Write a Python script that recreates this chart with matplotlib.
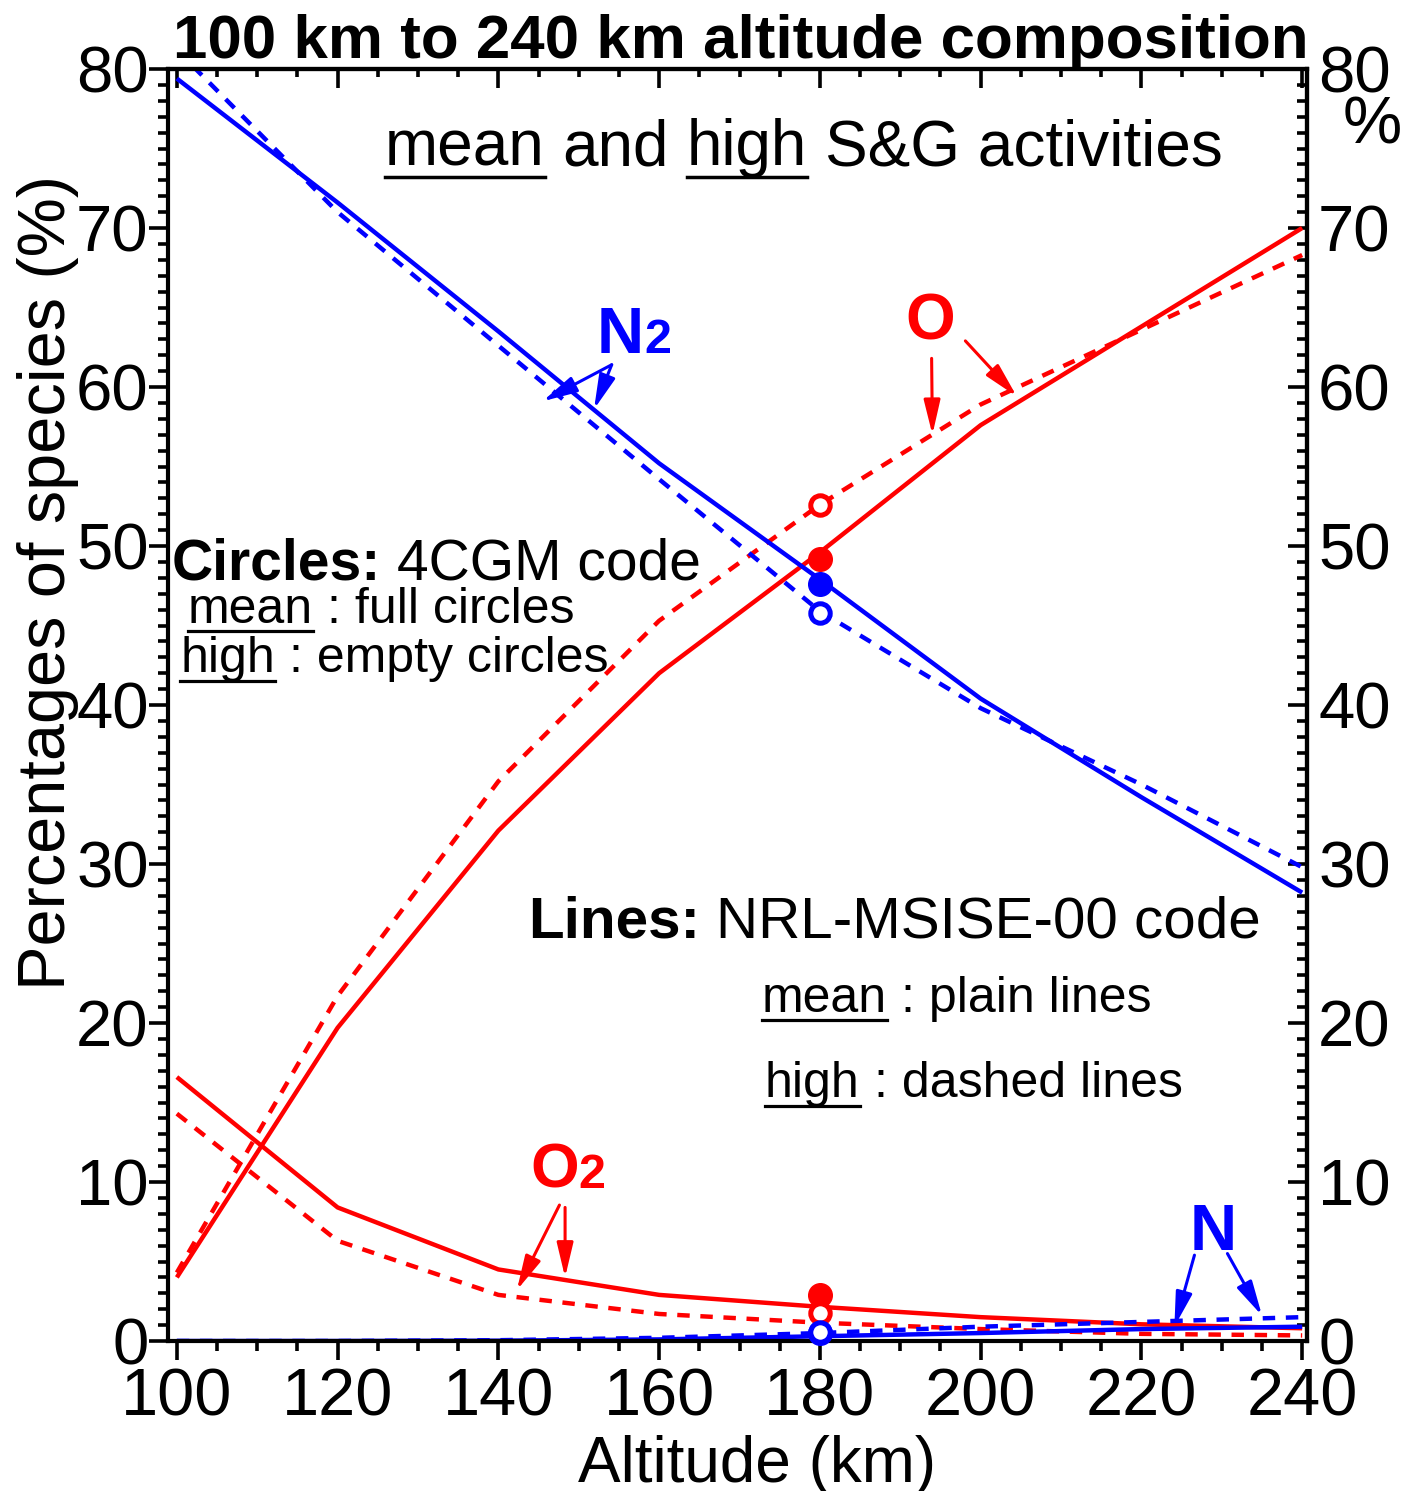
import matplotlib
matplotlib.use('Agg')
import matplotlib.pyplot as plt
from matplotlib.ticker import MultipleLocator
from matplotlib.transforms import IdentityTransform
from matplotlib.lines import Line2D

W, H, DPI = 1414, 1491, 100
plt.rcParams['font.family'] = ['Liberation Sans', 'DejaVu Sans']

# ---------------- data ----------------
altitude = [100, 120, 140, 160, 180, 200, 220, 240]
n2_mean = [79.4, 71.6, 63.5, 55.2, 47.9, 40.4, 34.2, 28.2]
n2_high = [81.2, 71.0, 62.6, 54.2, 45.9, 39.8, 35.0, 29.8]
o_mean = [4.0, 19.7, 32.1, 42.0, 49.6, 57.6, 63.8, 70.0]
o_high = [4.3, 21.7, 35.2, 45.3, 52.6, 58.9, 63.6, 68.3]
o2_mean = [16.6, 8.4, 4.5, 2.9, 2.15, 1.5, 1.05, 0.8]
o2_high = [14.3, 6.3, 2.9, 1.7, 1.15, 0.75, 0.45, 0.35]
n_mean = [0.0, 0.0, 0.02, 0.1, 0.3, 0.5, 0.75, 0.9]
n_high = [0.0, 0.0, 0.05, 0.2, 0.5, 0.9, 1.2, 1.5]

circle_alt = 180
circle_species = ['O', 'N2', 'O2', 'N']
circle_colors = ['red', 'blue', 'red', 'blue']
circle_mean = [49.2, 47.6, 2.9, 0.5]
circle_high = [52.6, 45.8, 1.75, 0.55]

xticks = [100, 120, 140, 160, 180, 200, 220, 240]
yticks = [0, 10, 20, 30, 40, 50, 60, 70, 80]

RED, BLUE = '#ff0000', '#0000ff'

fig = plt.figure(figsize=(W / DPI, H / DPI), dpi=DPI)
ax = fig.add_axes([168 / W, 1 - 1341 / H, (1307 - 168) / W, (1341 - 69) / H])
ax.set_xlim(98.9, 240.6)
ax.set_ylim(0, 80)

LW = 3.2
DASH = (2.8, 2.4)
series = [
    (o_mean, RED, '-'), (o_high, RED, '--'),
    (o2_mean, RED, '-'), (o2_high, RED, '--'),
    (n2_mean, BLUE, '-'), (n2_high, BLUE, '--'),
    (n_mean, BLUE, '-'), (n_high, BLUE, '--'),
]
for vals, col, ls in series:
    if ls == '-':
        ax.plot(altitude, vals, color=col, lw=LW, solid_capstyle='butt')
    else:
        ax.plot(altitude, vals, color=col, lw=LW, dashes=DASH, dash_capstyle='butt')

for v, c in zip(circle_mean, circle_colors):
    ax.plot([circle_alt], [v], 'o', color=c, ms=17, mec=c, zorder=5, clip_on=False)
for v, c in zip(circle_high, circle_colors):
    ax.plot([circle_alt], [v], 'o', mfc='white', mec=c, ms=14, mew=3.6, zorder=5, clip_on=False)

# ---------------- axes styling ----------------
for s in ax.spines.values():
    s.set_linewidth(3)
ax.set_xticks(xticks)
ax.set_yticks(yticks)
ax.xaxis.set_minor_locator(MultipleLocator(5))
ax.yaxis.set_minor_locator(MultipleLocator(1))
ax.tick_params(which='major', direction='out', length=14, width=2.6, top=False, right=False)
ax.tick_params(which='minor', direction='out', length=7, width=2.6, top=False, right=False)
ax.tick_params(axis='x', which='major', labelsize=48, pad=5)
ax.tick_params(axis='y', which='major', labelsize=47, pad=0)

secx = ax.secondary_xaxis('top')
secx.set_xticks(xticks)
secx.xaxis.set_minor_locator(MultipleLocator(5))
secx.tick_params(which='major', direction='in', length=14, width=2.6, labeltop=False)
secx.tick_params(which='minor', direction='in', length=6, width=2.6)
secx.spines['top'].set_linewidth(3)

secy = ax.secondary_yaxis('right')
secy.set_yticks(yticks)
secy.yaxis.set_minor_locator(MultipleLocator(1))
secy.tick_params(which='major', direction='in', length=14, width=2.6, labelsize=47, pad=8)
secy.tick_params(which='minor', direction='in', length=7, width=2.6)
secy.spines['right'].set_linewidth(3)

# ---------------- texts ----------------
ID = IdentityTransform()
renderer = fig.canvas.get_renderer()


def measure(s, size, weight):
    t = fig.text(0, 0, s, fontsize=size, weight=weight, transform=ID)
    w = t.get_window_extent(renderer).width
    t.remove()
    return w


def rich(x, y, segs, color='black', ul_off=10, ul_lw=2.3):
    """x, y: image pixel coords of baseline start (y from top)."""
    xd, yd = x, H - y
    for s, size, weight, ul in segs:
        sw = measure('n n', size, weight) - measure('nn', size, weight)
        lead = len(s) - len(s.lstrip(' '))
        trail = len(s) - len(s.rstrip(' '))
        core = s.strip(' ')
        xd += lead * sw
        t = fig.text(xd, yd, core, fontsize=size, weight=weight, color=color,
                     transform=ID, ha='left', va='baseline')
        bb = t.get_window_extent(renderer)
        if ul:
            fig.add_artist(Line2D([bb.x0, bb.x1], [yd - ul_off, yd - ul_off],
                                  transform=ID, color=color, lw=ul_lw))
        xd = bb.x1 + trail * sw


fig.text(741 / W, 1 - 58 / H, '100 km to 240 km altitude composition',
         fontsize=44.6, weight='bold', ha='center', va='baseline')
fig.text(48 / W, 1 - 582 / H, 'Percentages of species (%)', fontsize=48,
         rotation=90, ha='center', va='center')
fig.text(757 / W, 1 - 1482 / H, 'Altitude (km)', fontsize=46,
         ha='center', va='baseline')
fig.text(1372 / W, 1 - 143 / H, '%', fontsize=48, ha='center', va='baseline')

rich(385, 165, [('mean', 46, 'normal', True), (' and ', 46, 'normal', False),
                ('high', 46, 'normal', True), (' S&G activities', 46, 'normal', False)],
     ul_off=12, ul_lw=2.5)

rich(172, 580, [('Circles:', 41, 'bold', False), (' 4CGM code', 41, 'normal', False)])
rich(188, 623, [('mean', 36, 'normal', True), (' : full circles', 36, 'normal', False)], ul_off=8)
rich(180, 672, [('high', 36, 'normal', True), (' : empty circles', 36, 'normal', False)], ul_off=9)

rich(528, 938, [('Lines:', 42, 'bold', False), (' NRL-MSISE-00 code', 42, 'normal', False)])
rich(762, 1012, [('mean', 36, 'normal', True), (' : plain lines', 36, 'normal', False)], ul_off=8)
rich(765, 1097, [('high', 36, 'normal', True), (' : dashed lines', 36, 'normal', False)], ul_off=9)

# species labels
rich(597, 353, [('N', 47, 'bold', False), ('2', 35, 'bold', False)], color=BLUE)
rich(905, 340, [('O', 46, 'bold', False)], color=RED)
rich(530, 1188, [('O', 45, 'bold', False), ('2', 35, 'bold', False)], color=RED)
rich(1190, 1250, [('N', 47, 'bold', False)], color=BLUE)

# arrows (data coordinates)
arrows = [
    ((154.1, 61.4), (145.5, 59.1), BLUE),
    ((154.1, 61.4), (151.9, 58.6), BLUE),
    ((193.9, 61.8), (194.0, 57.0), RED),
    ((198.1, 62.9), (204.5, 59.4), RED),
    ((147.6, 8.55), (142.3, 3.2), RED),
    ((148.3, 8.4), (148.3, 4.0), RED),
    ((226.6, 5.4), (224.1, 0.9), BLUE),
    ((230.7, 5.5), (235.0, 1.6), BLUE),
]
for (x0, y0), (x1, y1), c in arrows:
    ax.annotate('', xy=(x1, y1), xytext=(x0, y0),
                arrowprops=dict(arrowstyle='-|>,head_length=2.1,head_width=0.5',
                                color=c, lw=2.2, shrinkA=0, shrinkB=0),
                annotation_clip=False)

fig.savefig('out.png', dpi=DPI)
